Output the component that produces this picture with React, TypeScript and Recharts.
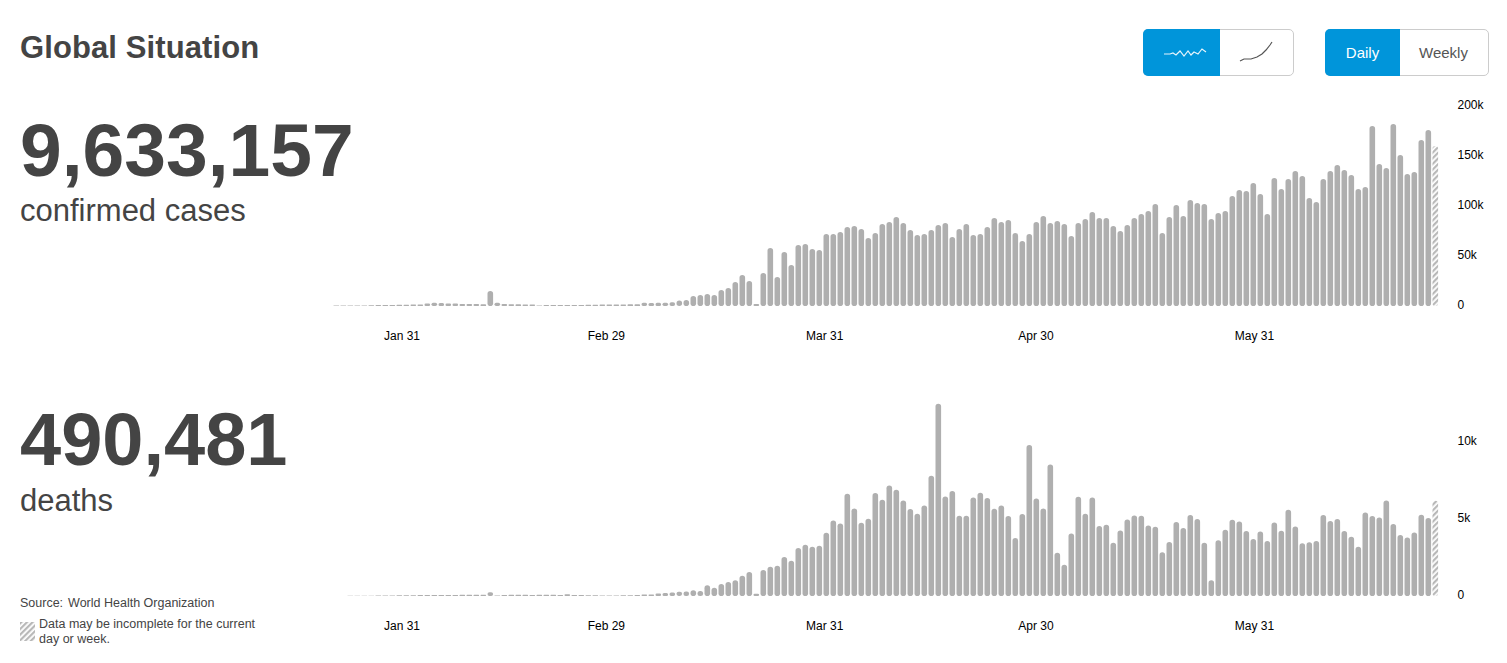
import { BarChart, Bar, Cell, XAxis, YAxis } from 'recharts'

// daily confirmed cases, in thousands
const casesK = [
  0.4, 0.4, 0.5, 0.5, 0.6, 0.7, 0.9, 1, 1, 1.2, 1.3, 1.4, 1.5, 2.6, 3.3, 3, 2.6, 2.6, 2, 2, 2, 1.7, 15, 3.3, 2, 1.8, 1.7, 1.6, 1.6,
  0.4, 0.9, 1, 0.9, 1, 0.9, 1, 1.2, 1.3, 1.4, 1.4, 1.5, 1.6, 1.7, 1.7, 3.3, 3, 3.2, 3.3, 3.8, 5.5, 6, 10, 11, 12, 11, 16, 18,
  24, 31, 25, 2, 33, 58, 29, 54, 41, 61, 62, 57, 56, 72, 72, 74, 79, 80, 77, 68, 73, 82, 84, 89, 83, 76, 71, 72, 76, 81,
  83, 69, 77, 82, 71, 72, 79, 88, 84, 86, 73, 65, 72, 84, 90, 83, 85, 82, 70, 83, 87, 94,
  88, 88, 80, 75, 81, 88, 92, 95, 102, 73, 89, 101, 90, 106, 103, 102, 87, 93, 95, 110, 116, 115, 123, 112, 92, 128, 117, 127, 135, 130,
  108, 104, 127, 135, 141, 136, 131, 117, 119, 180, 142, 138, 182, 151, 132, 134, 166, 176, 160,
]

const deathValues = [
  0, 0, 15, 15, 20, 20, 25, 30, 40, 45, 50, 55, 60, 60, 65, 65, 70, 70, 75, 75, 80, 85, 250, 25, 70, 75, 80, 75, 70, 80, 75, 80, 70, 120, 70, 60,
  50, 45, 40, 40, 40, 45, 50, 60, 90, 100, 170, 200, 220, 280, 300, 370,
  325, 693, 541, 779, 909, 1018, 1321, 1559, 152, 1689, 1905, 1970, 2533, 2295, 3118, 3334, 3204, 3269, 4114, 4915,
  4720, 6647, 5694, 4763, 5023, 6690, 6257, 7188, 6906, 6214, 5651, 5348, 5889, 7816, 12492, 6473, 6820, 5218, 5218, 6408,
  6712, 6365, 5672, 5889, 5196, 3767, 5326, 9807, 6343, 5694, 8552, 2815, 2035, 4070, 6452, 5348, 6408,
  4547, 4633, 3464, 4265, 4980, 5239, 5218, 4590, 4503, 2836, 3507, 4806, 4417, 5261, 5001, 3464, 1018, 3616, 4308, 4958,
  4850, 4222, 3702, 4200, 3572, 4785, 4243, 5607, 4525, 3421, 3486, 3572, 5261, 4871, 5001, 4222, 3854, 3204, 5434, 5196,
  5109, 6214, 4676, 3962, 3810, 4135, 5283, 5066, 6190,
]

// where the month labels fall on the date axis, in days from the left edge
const tickDays = [9.87, 38.87, 69.87, 99.87, 130.87]
const tickLabels = ['Jan 31', 'Feb 29', 'Mar 31', 'Apr 30', 'May 31']

const casesTicks = [0, 50000, 100000, 150000, 200000]
const deathTicks = [0, 5000, 10000]

const casesData = casesK.map((v, i) => ({ i, value: v * 1000 }))
const deathData = deathValues.map((v, i) => ({ i, value: v }))

const FONT = '"Liberation Sans", Arial, sans-serif'
const GREY = '#afafaf'
const BLUE = '#0095da'

const fmtY = (v: number) => (v === 0 ? '0' : `${v / 1000}k`)
const fmtDay = (d: number) => tickLabels[tickDays.indexOf(d)] ?? ''

function Hatch({ id }: { id: string }) {
  return (
    <pattern id={id} width="4" height="4" patternUnits="userSpaceOnUse" patternTransform="rotate(45)">
      <rect width="4" height="4" fill="#ffffff" />
      <rect width="2.2" height="4" fill="#b8b8b8" />
    </pattern>
  )
}

type PanelProps = {
  data: { i: number; value: number }[]
  top: number
  yMax: number
  yTicks: number[]
  hatchId: string
}

function Panel({ data, top, yMax, yTicks, hatchId }: PanelProps) {
  return (
    <div style={{ position: 'absolute', left: 0, top }}>
      <BarChart width={1507} height={250} data={data} margin={{ top: 10, right: 0, bottom: 0, left: 332.5 }}>
        <defs>
          <Hatch id={hatchId} />
        </defs>
        <XAxis xAxisId="bars" dataKey="i" type="category" hide height={0} />
        <XAxis
          xAxisId="dates"
          type="number"
          domain={[0, 157]}
          allowDataOverflow
          ticks={tickDays}
          tickFormatter={fmtDay}
          axisLine={false}
          tickLine={false}
          tickMargin={19}
          height={40}
          interval={0}
          tick={{ fontSize: 12, fill: '#000', fontFamily: FONT }}
        />
        <YAxis
          orientation="right"
          width={68.5}
          domain={[0, yMax]}
          ticks={yTicks}
          tickFormatter={fmtY}
          axisLine={false}
          tickLine={false}
          tickMargin={13}
          dy={-1}
          interval={0}
          tick={{ fontSize: 12, fill: '#000', fontFamily: FONT, textAnchor: 'start' }}
        />
        <Bar xAxisId="bars" dataKey="value" barSize={5.6} radius={3} fill={GREY} isAnimationActive={false}>
          {data.map((_, i) => (
            <Cell key={i} fill={i === data.length - 1 ? `url(#${hatchId})` : GREY} />
          ))}
        </Bar>
      </BarChart>
    </div>
  )
}

const abs = (left: number, top: number): React.CSSProperties => ({
  position: 'absolute',
  left,
  top,
  fontFamily: FONT,
  color: '#444',
  whiteSpace: 'nowrap',
  lineHeight: 1,
})

const btnGroup = (left: number, width: number): React.CSSProperties => ({
  position: 'absolute',
  left,
  top: 29,
  width,
  height: 47,
  boxSizing: 'border-box',
  border: '1px solid #ccc',
  borderRadius: 5,
  fontFamily: FONT,
})

const blueSide = (width: number): React.CSSProperties => ({
  position: 'absolute',
  left: -1,
  top: -1,
  width,
  height: 47,
  background: BLUE,
  borderRadius: '5px 0 0 5px',
})

export default function App() {
  return (
    <div style={{ position: 'absolute', left: 0, top: 0, width: 1507, height: 663, background: '#fff', overflow: 'hidden' }}>
      <div style={{ ...abs(20, 32), fontSize: 31, fontWeight: 700, letterSpacing: 0.1 }}>Global Situation</div>

      <div style={btnGroup(1142.5, 151)}>
        <div style={blueSide(77)} />
        <svg width={149} height={45} style={{ position: 'absolute', left: 0, top: 0 }}>
          <path
            d="M20 24 L26 24 L29 23 L32 25 L36 21 L40 26 L44 21 L47 25 L50 22 L54 24 L58 19 L62 22"
            fill="none"
            stroke="#e6f4fb"
            strokeWidth={1.2}
          />
          <path
            d="M96 31 L100 29 L107 29 L113 27 L118 24 L122 20 L126 15 L128 12"
            fill="none"
            stroke="#555"
            strokeWidth={1.2}
          />
        </svg>
      </div>

      <div style={btnGroup(1324.5, 164)}>
        <div style={blueSide(75)} />
        <div
          style={{
            position: 'absolute',
            left: 0,
            top: 0,
            width: 74,
            height: 45,
            color: '#fff',
            fontSize: 15,
            textAlign: 'center',
            lineHeight: '45px',
          }}
        >
          Daily
        </div>
        <div
          style={{
            position: 'absolute',
            left: 74,
            top: 0,
            width: 88,
            height: 45,
            color: '#555',
            fontSize: 15,
            textAlign: 'center',
            lineHeight: '45px',
          }}
        >
          Weekly
        </div>
      </div>

      <Panel data={casesData} top={96} yMax={200000} yTicks={casesTicks} hatchId="hatch-cases" />
      <Panel data={deathData} top={386} yMax={13000} yTicks={deathTicks} hatchId="hatch-deaths" />

      <div style={{ ...abs(20, 113), fontSize: 75, fontWeight: 700 }}>9,633,157</div>
      <div style={{ ...abs(20, 195), fontSize: 31 }}>confirmed cases</div>
      <div style={{ ...abs(20, 403), fontSize: 74, fontWeight: 700 }}>490,481</div>
      <div style={{ ...abs(20, 485), fontSize: 31 }}>deaths</div>

      <div style={{ ...abs(20, 597), fontSize: 12.5 }}>
        Source:<span style={{ marginLeft: 5 }}>World Health Organization</span>
      </div>
      <svg width={15} height={19} style={{ position: 'absolute', left: 20, top: 622 }}>
        <defs>
          <Hatch id="hatch-legend" />
        </defs>
        <rect width={15} height={19} fill="url(#hatch-legend)" />
      </svg>
      <div style={{ ...abs(39, 617), fontSize: 12.5, lineHeight: '15px' }}>
        Data may be incomplete for the current
        <br />
        day or week.
      </div>
    </div>
  )
}
